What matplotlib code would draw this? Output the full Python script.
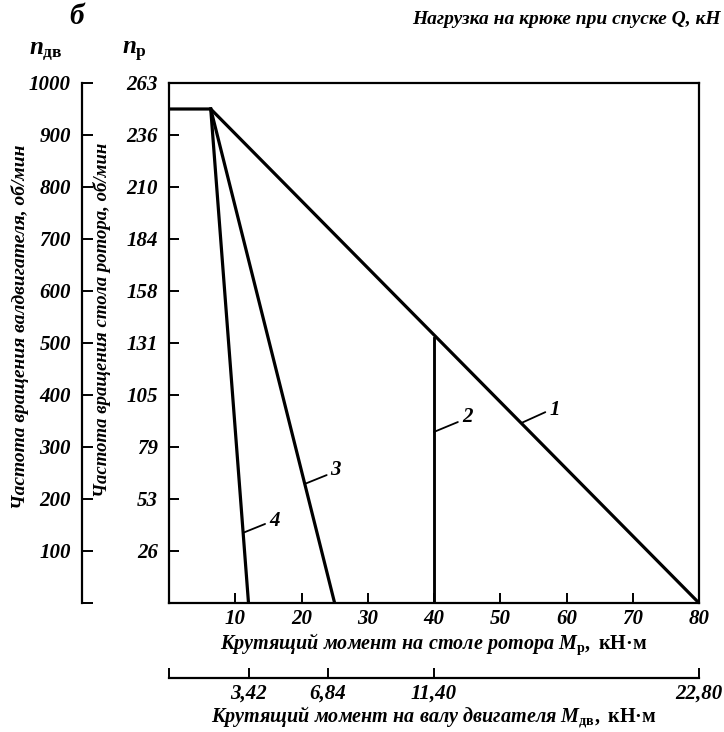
import matplotlib
matplotlib.use("Agg")
import matplotlib.pyplot as plt

# ---------------- data ----------------
# Torque on rotor table M_r (kN*m) and motor speed n_dv (rpm)
line1_M = [0, 6.3, 80]
line1_n = [950, 950, 0]
line2_M = [40, 40]
line2_n = [0, 510]
line3_M = [6.3, 25]
line3_n = [950, 0]
line4_M = [6.3, 12]
line4_n = [950, 0]

n_dv_ticks = [0, 100, 200, 300, 400, 500, 600, 700, 800, 900, 1000]
n_dv_labels = ['', '100', '200', '300', '400', '500', '600', '700', '800', '900', '1000']
n_r_ticks = [100, 200, 300, 400, 500, 600, 700, 800, 900, 1000]
n_r_labels = ['26', '53', '79', '105', '131', '158', '184', '210', '236', '263']
M_r_ticks = [10, 20, 30, 40, 50, 60, 70, 80]
M_dv_ticks = [0, 3.42, 6.84, 11.40, 22.80]
M_dv_labels = ['', '3,42', '6,84', '11,40', '22,80']
ratio = 80 / 22.80

# ---------------- style ----------------
plt.rcParams['font.family'] = ['Liberation Serif', 'DejaVu Serif']
plt.rcParams['font.style'] = 'italic'
plt.rcParams['font.weight'] = 'bold'
plt.rcParams['mathtext.fontset'] = 'custom'
plt.rcParams['mathtext.rm'] = 'Liberation Serif:style=normal:weight=bold'
plt.rcParams['mathtext.it'] = 'Liberation Serif:style=italic:weight=bold'
plt.rcParams['mathtext.bf'] = 'Liberation Serif:style=normal:weight=bold'

W, H = 724, 732
fig = plt.figure(figsize=(W / 100, H / 100), dpi=100)
L, R, T, B = 169, 699, 83, 603
ax = fig.add_axes([L / W, 1 - B / H, (R - L) / W, (B - T) / H])

lw = 2.3
ax.plot(line1_M, line1_n, color='black', lw=lw, solid_joinstyle='miter')
ax.plot(line2_M, line2_n, color='black', lw=lw * 0.9)
ax.plot(line3_M, line3_n, color='black', lw=lw)
ax.plot(line4_M, line4_n, color='black', lw=lw)

ax.set_xlim(0, 80)
ax.set_ylim(0, 1000)

for s in ax.spines.values():
    s.set_linewidth(1.6)

TS = 15
ax.set_xticks(M_r_ticks)
ax.set_xticklabels([str(v) for v in M_r_ticks])
ax.set_yticks(n_r_ticks)
ax.set_yticklabels(n_r_labels)
ax.tick_params(direction='in', length=7, width=1.4, labelsize=TS)
ax.tick_params(axis='x', pad=4)
ax.tick_params(axis='y', pad=8)


def on_line(M0, n0, M1, n1, n):
    return M0 + (M1 - M0) * (n - n0) / (n1 - n0)


# curve labels with leader lines
def lab(txt, xy, xyt, tx):
    ax.annotate('', xy=xy, xytext=xyt,
                arrowprops=dict(arrowstyle='-', lw=1.3, color='black',
                                shrinkA=0, shrinkB=0))
    ax.text(tx[0], tx[1], txt, fontsize=TS, ha='left', va='center')


y1 = 346
lab('1', (on_line(6.3, 950, 80, 0, y1), y1), (56.8, 367), (57.4, 372))
lab('2', (40, 329), (43.6, 348), (44.2, 358))
y3 = 229
lab('3', (on_line(6.3, 950, 25, 0, y3), y3), (23.8, 246), (24.4, 256))
y4 = 135
lab('4', (on_line(6.3, 950, 12, 0, y4), y4), (14.5, 152), (15.1, 158))

# secondary y axis: motor speed
sec_y = ax.secondary_yaxis(-(L - 82) / (R - L))
sec_y.set_yticks(n_dv_ticks)
sec_y.set_yticklabels(n_dv_labels)
sec_y.spines['left'].set_linewidth(1.6)
sec_y.tick_params(direction='in', length=8, width=1.4, labelsize=TS, pad=8)

# secondary x axis: torque on motor shaft
sec_x = ax.secondary_xaxis(-(678 - B) / (B - T),
                           functions=(lambda m: m / ratio, lambda d: d * ratio))
sec_x.set_xticks(M_dv_ticks)
sec_x.set_xticklabels(M_dv_labels)
sec_x.spines['bottom'].set_linewidth(1.6)
sec_x.tick_params(direction='in', length=7, width=1.4, labelsize=TS, pad=4)

# axis titles
ax.set_xlabel(r'$\mathit{Крутящий\ момент\ на\ столе\ ротора\ M}_{\mathrm{р}}\mathrm{,\ кН·м}$',
              fontsize=14.5, labelpad=2)
sec_x.set_xlabel(r'$\mathit{Крутящий\ момент\ на\ валу\ двигателя\ M}_{\mathrm{дв}}\mathrm{,\ кН·м}$',
                 fontsize=14.5, labelpad=1)

ax.text((102 - L) / (R - L), (B - 320) / (B - T), 'Частота вращения стола ротора, об/мин',
        rotation=90, fontsize=13.5, ha='center', va='center', transform=ax.transAxes)
ax.text((20 - L) / (R - L), (B - 327) / (B - T), 'Частота вращения валдвигателя, об/мин',
        rotation=90, fontsize=14, ha='center', va='center', transform=ax.transAxes)

fig.text(46 / W, 1 - 52 / H, r'$n_{\mathrm{дв}}$', fontsize=18, ha='center', va='center')
fig.text(134 / W, 1 - 52 / H, r'$n_{\mathrm{р}}$', fontsize=18, ha='center', va='center')
fig.text(77 / W, 1 - 17 / H, 'б', fontsize=21, ha='center', va='center')
fig.text(721 / W, 1 - 20 / H, 'Нагрузка на крюке при спуске Q, кН', fontsize=14,
         ha='right', va='center')

fig.savefig('out.png', dpi=100)
